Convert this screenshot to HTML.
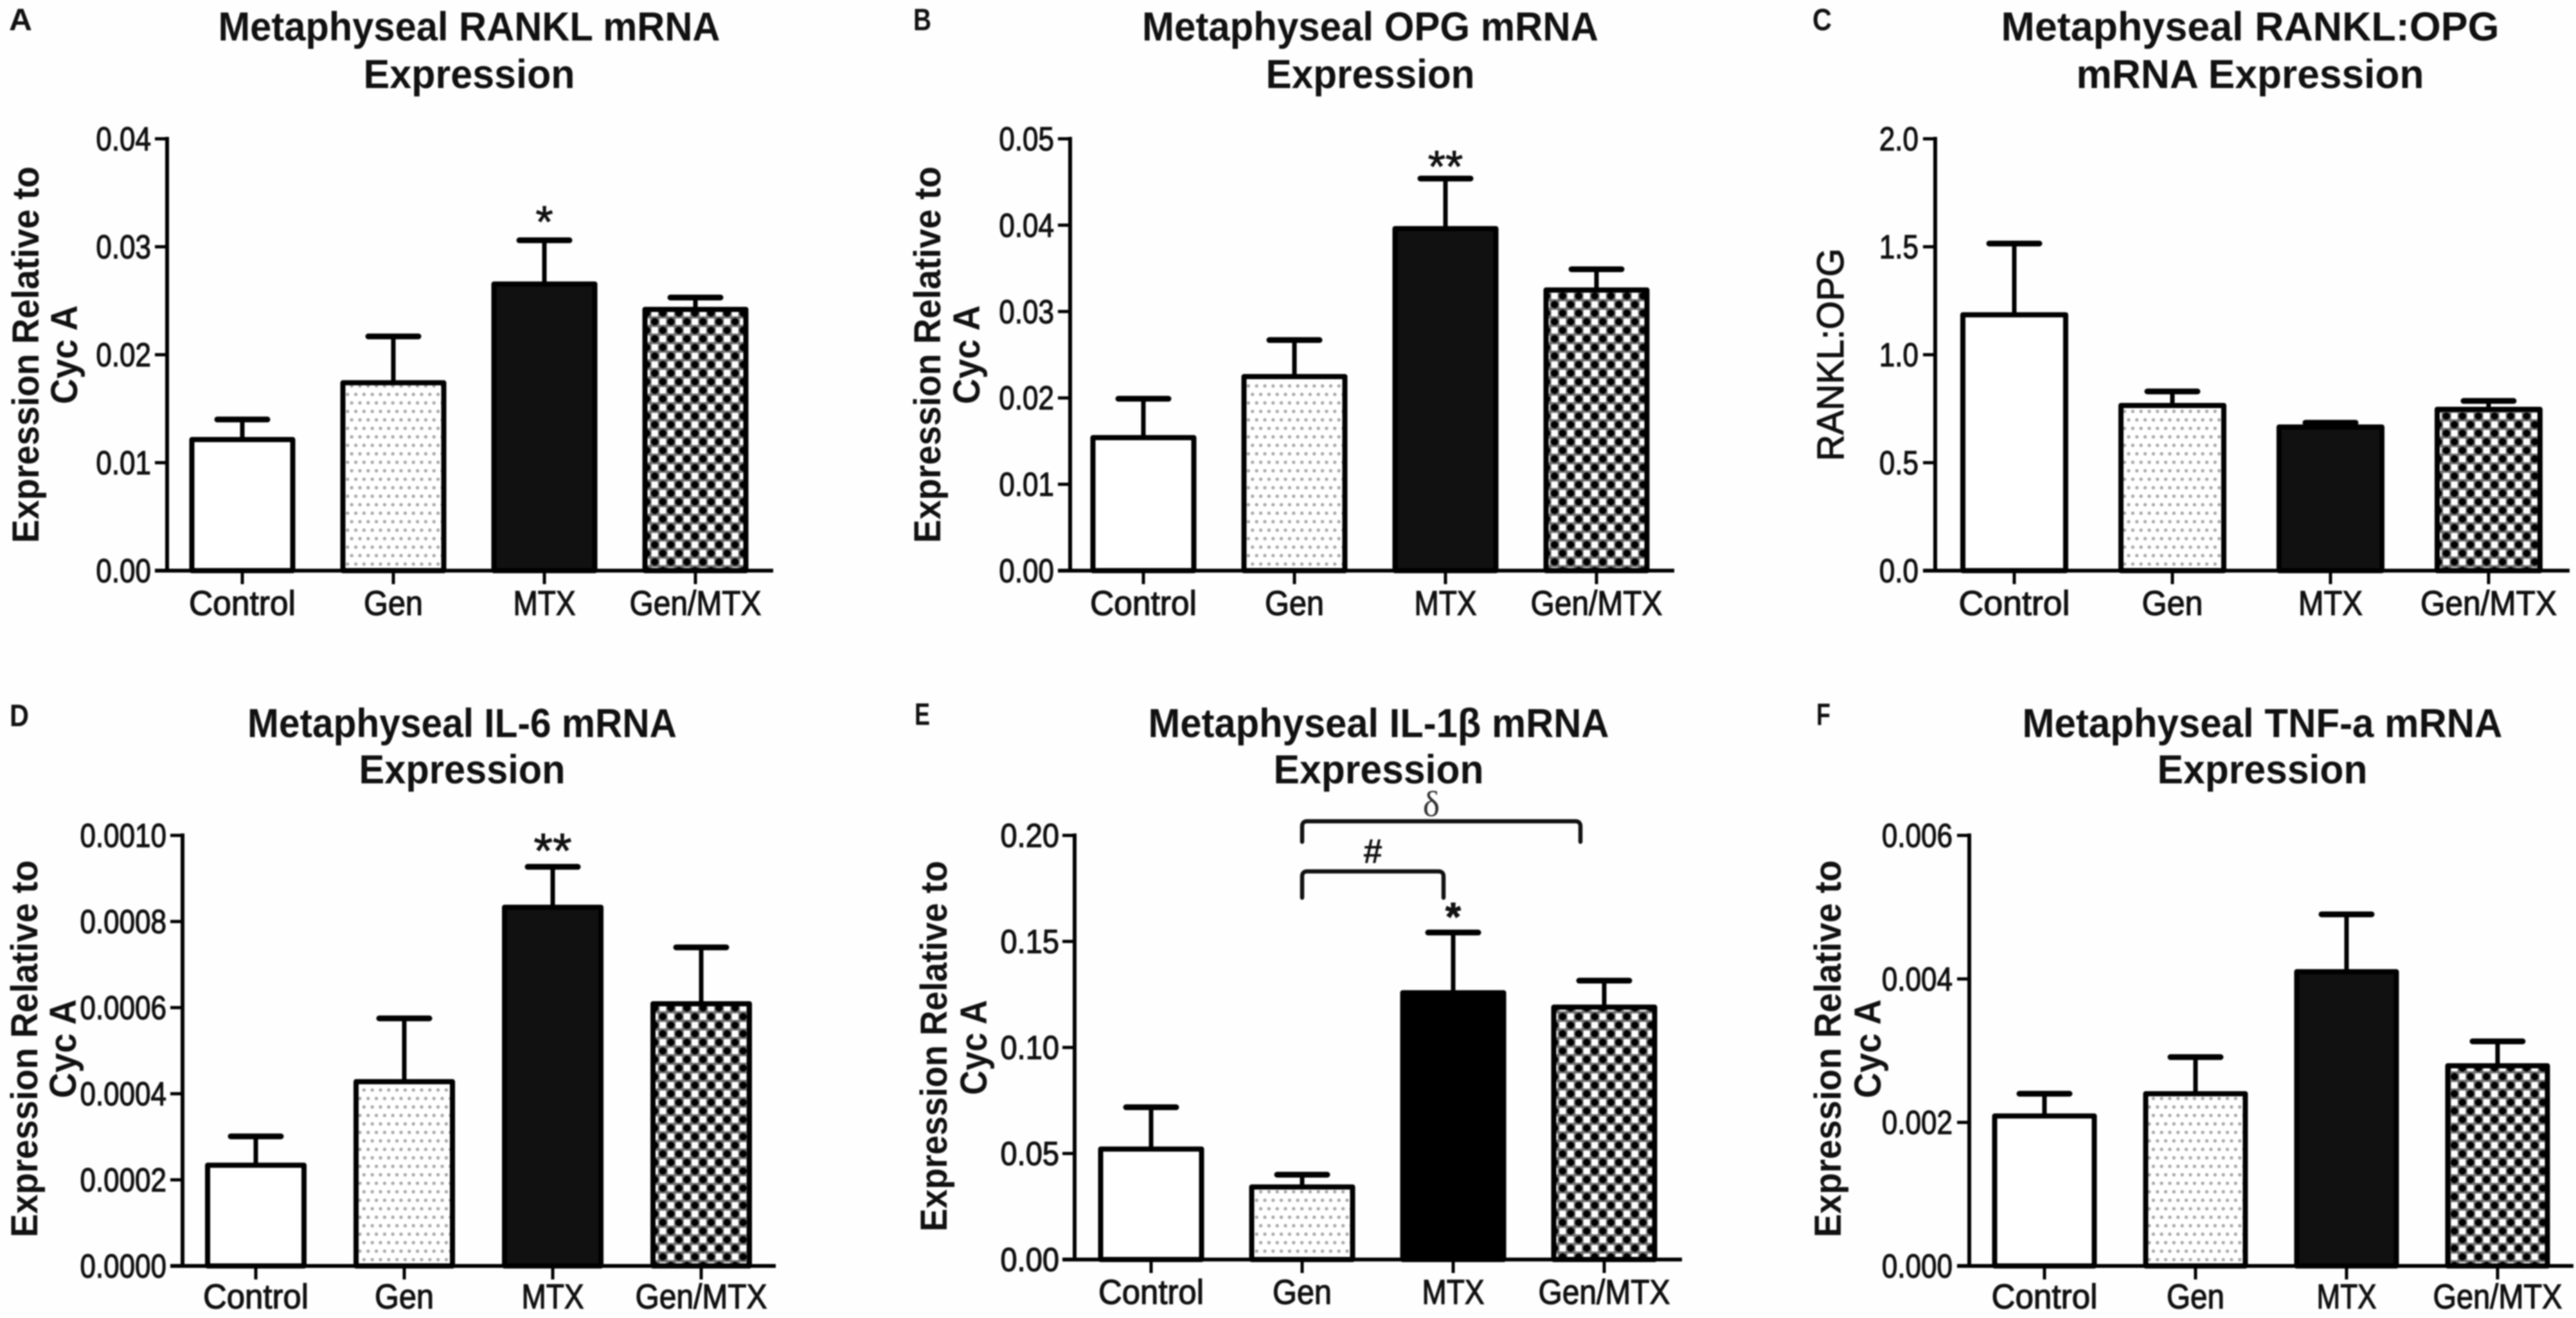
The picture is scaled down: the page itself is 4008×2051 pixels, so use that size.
<!DOCTYPE html>
<html lang="en">
<head>
<meta charset="utf-8">
<title>Metaphyseal mRNA Expression Panels</title>
<style>
html,body{margin:0;padding:0;background:#fefefe;}
body{width:4008px;height:2051px;overflow:hidden;}
#figure{display:block;filter:blur(1.1px);}
text{font-family:"Liberation Sans",sans-serif;fill:#111;}
</style>
</head>
<body>
<svg id="figure" xmlns="http://www.w3.org/2000/svg" width="4008" height="2051" viewBox="0 0 4008 2051">
  <defs>
    <pattern id="dots" patternUnits="userSpaceOnUse" width="12.8" height="26.4">
      <rect width="12.8" height="26.4" fill="#fff"/>
      <circle cx="3.2" cy="6.6" r="2.7" fill="#a8a8a8"/>
      <circle cx="9.6" cy="19.8" r="2.7" fill="#a8a8a8"/>
    </pattern>
    <pattern id="checks" patternUnits="userSpaceOnUse" width="25" height="26.7">
      <rect width="25" height="26.7" fill="#707070"/>
      <circle cx="6.25" cy="6.67" r="5.6" fill="#000"/>
      <circle cx="18.75" cy="20" r="5.6" fill="#000"/>
      <rect x="13.75" y="1.67" width="10" height="10" fill="#fff"/>
      <rect x="1.25" y="15" width="10" height="10" fill="#fff"/>
    </pattern>
  </defs>
  <rect width="4008" height="2051" fill="#fefefe"/>
</svg>
<script>
// ---- Chart data ----
const categories = ["Control", "Gen", "MTX", "Gen/MTX"];

const ticksA = ["0.00", "0.01", "0.02", "0.03", "0.04"];
const valuesA = [0.01214, 0.0174, 0.02655, 0.0242];
const errorTopsA = [0.0140, 0.0217, 0.0306, 0.0253];

const ticksB = ["0.00", "0.01", "0.02", "0.03", "0.04", "0.05"];
const valuesB = [0.0154, 0.02247, 0.0396, 0.0325];
const errorTopsB = [0.0199, 0.0267, 0.0454, 0.0349];

const ticksC = ["0.0", "0.5", "1.0", "1.5", "2.0"];
const valuesC = [1.185, 0.765, 0.665, 0.747];
const errorTopsC = [1.515, 0.83, 0.685, 0.786];

const ticksD = ["0.0000", "0.0002", "0.0004", "0.0006", "0.0008", "0.0010"];
const valuesD = [0.000234, 0.000428, 0.000833, 0.000609];
const errorTopsD = [0.000301, 0.000575, 0.000927, 0.00074];

const ticksE = ["0.00", "0.05", "0.10", "0.15", "0.20"];
const valuesE = [0.0521, 0.0342, 0.1258, 0.119];
const errorTopsE = [0.0718, 0.04, 0.1542, 0.1315];

const ticksF = ["0.000", "0.002", "0.004", "0.006"];
const valuesF = [0.00209, 0.0024, 0.0041, 0.00279];
const errorTopsF = [0.0024, 0.00291, 0.0049, 0.00313];

// ---- Layout ----
const svgNS = "http://www.w3.org/2000/svg";
const figure = document.getElementById("figure");
const barFills = ["#fff", "url(#dots)", "#111", "url(#checks)"];
const barKeys = ["control", "gen", "mtx", "gen-mtx"];

const panels = [
  { id: "a", letter: "A", letterX: 14, letterY: 47, letterW: 36, ticks: ticksA, values: valuesA, errors: errorTopsA,
    axisX: 260, top: 216, base: 888, right: 1203, first: 377, step: 235, barW: 157,
    titleX: 730, titleY: [63, 137], title: ["Metaphyseal RANKL mRNA", "Expression"], titleW: [781, 329],
    tickEm: 44, labelRight: 235, catY: 957, catW: [166, 92, 97, 205],
    yTitle: ["Expression Relative to", "Cyc A"], yX: [60, 120], yC: [552, 552], yW: [586, 154],
    marks: [{ bar: 2, text: "*", dy: -5, size: 70 }] },
  { id: "b", letter: "B", letterX: 1421, letterY: 47, letterW: 28, ticks: ticksB, values: valuesB, errors: errorTopsB,
    axisX: 1665, top: 216, base: 888, right: 2605, first: 1779, step: 235, barW: 157,
    titleX: 2132, titleY: [63, 137], title: ["Metaphyseal OPG mRNA", "Expression"], titleW: [710, 325],
    tickEm: 44, labelRight: 1640, catY: 957, catW: [166, 92, 97, 205],
    yTitle: ["Expression Relative to", "Cyc A"], yX: [1463, 1524], yC: [552, 552], yW: [586, 154],
    marks: [{ bar: 2, text: "**", dy: 5, size: 70 }] },
  { id: "c", letter: "C", letterX: 2820, letterY: 47, letterW: 30, ticks: ticksC, values: valuesC, errors: errorTopsC,
    axisX: 3011, top: 216, base: 888, right: 3998, first: 3134, step: 246, barW: 160,
    titleX: 3501, titleY: [63, 137], title: ["Metaphyseal RANKL:OPG", "mRNA Expression"], titleW: [775, 541],
    tickEm: 44, labelRight: 2985, catY: 957, catW: [173, 95, 100, 212],
    yTitle: ["RANKL:OPG"], yX: [2868], yC: [552], yW: [331], yWeight: "normal",
    marks: [] },
  { id: "d", letter: "D", letterX: 15, letterY: 1130, letterW: 30, ticks: ticksD, values: valuesD, errors: errorTopsD,
    axisX: 284, top: 1300, base: 1970, right: 1207, first: 398, step: 231, barW: 150,
    titleX: 719, titleY: [1147, 1219], title: ["Metaphyseal IL-6 mRNA", "Expression"], titleW: [668, 321],
    tickEm: 44, labelRight: 259, catY: 2036, catW: [164, 92, 97, 205],
    yTitle: ["Expression Relative to", "Cyc A"], yX: [58, 118], yC: [1632, 1632], yW: [587, 154],
    marks: [{ bar: 2, text: "**", dy: 1, size: 76 }] },
  { id: "e", letter: "E", letterX: 1423, letterY: 1128, letterW: 24, ticks: ticksE, values: valuesE, errors: errorTopsE,
    axisX: 1672, top: 1300, base: 1960, right: 2617, first: 1791, step: 235, barW: 157, blackFill: "#000",
    titleX: 2145, titleY: [1147, 1219], title: ["Metaphyseal IL-1\u03B2 mRNA", "Expression"], titleW: [717, 327],
    tickEm: 47, labelRight: 1648, catY: 2029, catW: [164, 92, 97, 205],
    yTitle: ["Expression Relative to", "Cyc A"], yX: [1473, 1535], yC: [1628, 1630], yW: [577, 148],
    marks: [{ bar: 2, text: "*", dy: -3, size: 62, weight: "bold" }] },
  { id: "f", letter: "F", letterX: 2826, letterY: 1128, letterW: 22, ticks: ticksF, values: valuesF, errors: errorTopsF,
    axisX: 3064, top: 1300, base: 1970, right: 4004, first: 3181, step: 235, barW: 155,
    titleX: 3520, titleY: [1147, 1219], title: ["Metaphyseal TNF-a mRNA", "Expression"], titleW: [747, 327],
    tickEm: 44, labelRight: 3038, catY: 2036, catW: [165, 90, 93, 201],
    yTitle: ["Expression Relative to", "Cyc A"], yX: [2864, 2926], yC: [1632, 1632], yW: [587, 154],
    marks: [] }
];

function make(tag, parent, attrs) {
  const node = document.createElementNS(svgNS, tag);
  for (const k in attrs) node.setAttribute(k, attrs[k]);
  parent.appendChild(node);
  return node;
}

function labelWidth(str, em) {
  let units = 0;
  for (const ch of str) units += ch === "." ? 0.278 : 0.556;
  return units * em;
}

function drawPanel(p) {
  const group = make("g", figure, {});
  
  

  const yMax = parseFloat(p.ticks[p.ticks.length - 1]);
  const yOf = v => p.base - (v / yMax) * (p.base - p.top);
  const xOf = i => p.first + i * p.step;

  // panel letter
  const letter = make("text", group, { x: p.letterX, y: p.letterY, "font-size": 48, "font-weight": "bold",
    textLength: p.letterW, lengthAdjust: "spacingAndGlyphs" });
  letter.textContent = p.letter;
  
  

  // title lines
  p.title.forEach((line, i) => {
    const t = make("text", group, { x: p.titleX, y: p.titleY[i], "font-size": 63, "font-weight": "bold",
      "text-anchor": "middle", textLength: p.titleW[i], lengthAdjust: "spacingAndGlyphs" });
    t.textContent = line;
    
    
  });

  // y-axis title lines
  p.yTitle.forEach((line, i) => {
    const t = make("text", group, { x: p.yX[i], y: p.yC[i], "font-size": 58, "font-weight": p.yWeight || "bold",
      "text-anchor": "middle", textLength: p.yW[i], lengthAdjust: "spacingAndGlyphs",
      transform: "rotate(-90 " + p.yX[i] + " " + p.yC[i] + ")" });
    if (p.yWeight) { t.setAttribute("stroke", "#111"); t.setAttribute("stroke-width", "1.2"); }
    t.textContent = line;
    
    
  });

  // bars, drawn from the values arrays
  p.values.forEach((v, i) => {
    const yTop = yOf(v);
    const yErr = yOf(p.errors[i]);
    const cx = xOf(i);

    const stem = make("line", group, { x1: cx, x2: cx, y1: yTop, y2: yErr, stroke: "#000", "stroke-width": 7 });
    
    

    const cap = make("line", group, { x1: cx - 39, x2: cx + 39, y1: yErr, y2: yErr, stroke: "#000",
      "stroke-width": 9, "stroke-linecap": "round" });
    
    

    const fill = (i === 2 && p.blackFill) ? p.blackFill : barFills[i];
    const bar = make("rect", group, { x: cx - p.barW / 2, y: yTop, width: p.barW, height: p.base - yTop,
      fill: fill, stroke: "#000", "stroke-width": 8, "stroke-linejoin": "round" });
    
    

    const tick = make("line", group, { x1: cx, x2: cx, y1: p.base, y2: p.base + 21, stroke: "#000", "stroke-width": 5 });
    
    

    const cat = make("text", group, { x: cx, y: p.catY, "font-size": 54, "text-anchor": "middle",
      textLength: p.catW[i], lengthAdjust: "spacingAndGlyphs", stroke: "#111", "stroke-width": 1.3 });
    cat.textContent = categories[i];
    
    
  });

  // significance marks, anchored on the error cap of their bar
  p.marks.forEach(m => {
    const t = make("text", group, { x: xOf(m.bar), y: yOf(p.errors[m.bar]) + m.dy, "font-size": m.size,
      "text-anchor": "middle", "font-weight": m.weight || "normal", stroke: "#111", "stroke-width": 1 });
    t.textContent = m.text;
    
    
  });

  // axes
  const yAxis = make("line", group, { x1: p.axisX, x2: p.axisX, y1: p.top - 3, y2: p.base + 3, stroke: "#000", "stroke-width": 6 });
  
  

  const xAxis = make("line", group, { x1: p.axisX - 19, x2: p.right, y1: p.base, y2: p.base, stroke: "#000", "stroke-width": 6 });
  
  

  // y ticks and labels
  p.ticks.forEach(label => {
    const y = yOf(parseFloat(label));
    const tick = make("line", group, { x1: p.axisX - 19, x2: p.axisX, y1: y, y2: y, stroke: "#000", "stroke-width": 5 });
    
    

    const t = make("text", group, { x: p.labelRight, y: y + 18, "font-size": 52, "text-anchor": "end",
      textLength: labelWidth(label, p.tickEm), lengthAdjust: "spacingAndGlyphs", stroke: "#111", "stroke-width": 1.3 });
    t.textContent = label;
    
    
  });

  return { group, xOf };
}

const drawn = panels.map(drawPanel);

// ---- Panel E comparison brackets ----
const panelE = drawn[4];
const bracketGen = panelE.xOf(1);
const bracketMtx = panelE.xOf(2) - 15;
const bracketCombo = panelE.xOf(3) - 37;

const bracketDeltaPath = make("path", panelE.group, {
  d: "M" + bracketGen + " 1310 V1286 Q" + bracketGen + " 1278 " + (bracketGen + 8) + " 1278 H" + (bracketCombo - 8) +
     " Q" + bracketCombo + " 1278 " + bracketCombo + " 1286 V1310",
  fill: "none", stroke: "#111", "stroke-width": 6.5, "stroke-linecap": "round" });



const bracketHashPath = make("path", panelE.group, {
  d: "M" + bracketGen + " 1397 V1364 Q" + bracketGen + " 1356 " + (bracketGen + 8) + " 1356 H" + (bracketMtx - 8) +
     " Q" + bracketMtx + " 1356 " + bracketMtx + " 1364 V1397",
  fill: "none", stroke: "#111", "stroke-width": 6.5, "stroke-linecap": "round" });



const deltaLabel = make("text", panelE.group, { x: 2227, y: 1270, "font-size": 56, "text-anchor": "middle" });
deltaLabel.setAttribute("style", 'font-family:"Liberation Serif",serif;fill:#333');
deltaLabel.textContent = "\u03B4";



const hashLabel = make("text", panelE.group, { x: 2136, y: 1343, "font-size": 54, "font-weight": "bold", "text-anchor": "middle" });
hashLabel.textContent = "#";


</script>
</body>
</html>
